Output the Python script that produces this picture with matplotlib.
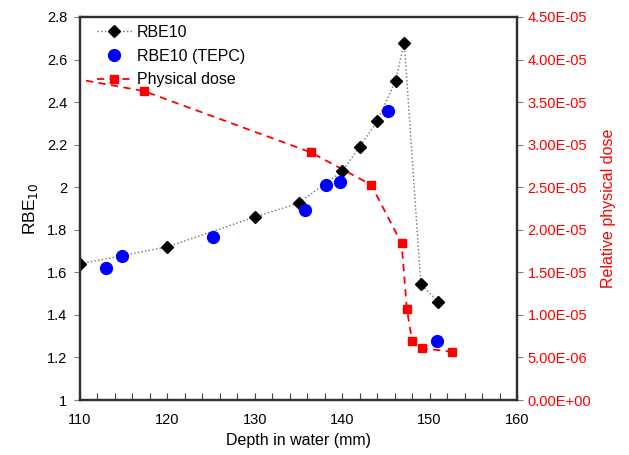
import matplotlib
matplotlib.use("Agg")
import matplotlib.pyplot as plt
from matplotlib.ticker import MultipleLocator, FuncFormatter

plt.rcParams['font.family'] = ['Liberation Sans', 'DejaVu Sans']

# RBE10 (black diamonds)
rbe_depth = [110, 120, 130, 135, 140, 142, 144, 146.1, 147.1, 149, 151]
rbe_vals = [1.64, 1.72, 1.86, 1.925, 2.075, 2.19, 2.31, 2.50, 2.68, 1.545, 1.46]

# RBE10 (TEPC) (blue circles)
tepc_depth = [113.0, 114.8, 125.2, 135.8, 138.1, 139.7, 145.2, 150.9]
tepc_vals = [1.62, 1.675, 1.765, 1.895, 2.01, 2.025, 2.36, 1.278]

# Physical dose (red squares, right axis)
dose_depth = [100, 117.3, 136.4, 143.3, 146.8, 147.4, 148.0, 149.1, 152.6]
dose_vals = [3.95e-5, 3.63e-5, 2.91e-5, 2.53e-5, 1.84e-5, 1.07e-5, 6.9e-6, 6.1e-6, 5.65e-6]

fig = plt.figure(figsize=(6.29, 4.55), dpi=100)
ax = fig.add_axes([80/629, 55/455, 437/629, 383/455])
ax2 = ax.twinx()

ax.set_zorder(ax2.get_zorder() + 1)
ax.patch.set_visible(False)

l1, = ax.plot(rbe_depth, rbe_vals, linestyle=':', color='#707070', linewidth=1.0,
              marker='D', markersize=6.5, markerfacecolor='black', markeredgecolor='black',
              label='RBE10')
l2, = ax.plot(tepc_depth, tepc_vals, linestyle='none', marker='o', markersize=8.5,
              markerfacecolor='#0000FF', markeredgecolor='#0000FF', label='RBE10 (TEPC)')
l3, = ax2.plot(dose_depth, dose_vals, linestyle=(0, (4, 3)), color='#FF0000', linewidth=1.3,
               marker='s', markersize=6, markerfacecolor='#FF0000', markeredgecolor='#FF0000',
               label='Physical dose')

ax.set_xlim(110, 160)
ax.set_ylim(1.0, 2.8)
ax2.set_ylim(0, 4.5e-5)

ax.xaxis.set_major_locator(MultipleLocator(10))
ax.xaxis.set_minor_locator(MultipleLocator(2))
ax.yaxis.set_major_locator(MultipleLocator(0.2))
ax2.yaxis.set_major_locator(MultipleLocator(5e-6))

ax.yaxis.set_major_formatter(FuncFormatter(lambda v, p: ('%g' % round(v, 2))))
ax2.yaxis.set_major_formatter(FuncFormatter(lambda v, p: '%.2E' % v))

ax.tick_params(axis='x', which='both', direction='in', length=5, width=0.8,
               labelsize=10.5, pad=9, color='#404040')
ax.tick_params(axis='y', which='major', direction='out', length=4, width=0.8,
               labelsize=10.5, color='#808080', pad=5)
ax2.tick_params(axis='y', which='major', direction='out', length=4, width=0.8,
                labelsize=10.5, labelcolor='#FF0000', color='#808080')

for a in (ax, ax2):
    for s in a.spines.values():
        s.set_linewidth(1.6)
        s.set_color('#303030')

ax.set_xlabel('Depth in water (mm)', fontsize=11.5, labelpad=5)
ax.set_ylabel('RBE$_{10}$', fontsize=12.5, labelpad=5)
ax2.set_ylabel('Relative physical dose', fontsize=11.5, color='#FF0000', labelpad=7)

leg = ax.legend(handles=[l1, l2, l3], loc='upper left', frameon=False, fontsize=11.5,
                handlelength=2.2, handletextpad=0.3, borderaxespad=0.0, labelspacing=0.55,
                bbox_to_anchor=(0.024, 0.996))

fig.savefig('out.png', dpi=100)
